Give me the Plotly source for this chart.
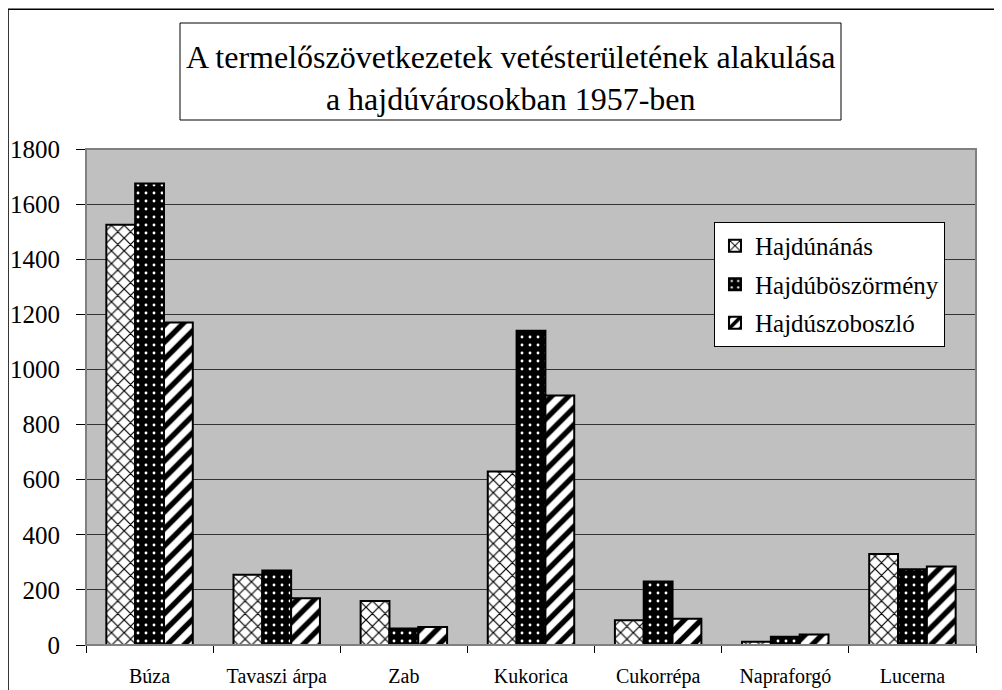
import plotly.graph_objects as go

# adatok (ha), leolvasva az abrarol
kategoriak = ['Búza', 'Tavaszi árpa', 'Zab', 'Kukorica', 'Cukorrépa', 'Napraforgó', 'Lucerna']
hajdunanas = [1525, 255, 160, 630, 90, 12, 330]
hajduboszormeny = [1675, 270, 60, 1140, 230, 30, 275]
hajduszoboszlo = [1170, 170, 65, 905, 95, 38, 285]
y_ticks = [0, 200, 400, 600, 800, 1000, 1200, 1400, 1600, 1800]

FONT = 'Liberation Serif'

fig = go.Figure()

fig.add_trace(go.Bar(
    x=kategoriak, y=hajdunanas, name='Hajdúnánás', legendgroup='a',
    marker=dict(
        color='white',
        line=dict(color='black', width=2),
        pattern=dict(shape='x', bgcolor='white', fgcolor='black',
                     size=9, solidity=0.25, fillmode='replace')
    )
))
fig.add_trace(go.Bar(
    x=kategoriak, y=hajduboszormeny, name='Hajdúböszörmény', legendgroup='b',
    marker=dict(
        color='black',
        line=dict(color='black', width=2),
        pattern=dict(shape='.', bgcolor='black', fgcolor='white',
                     size=8, solidity=0.1, fillmode='replace')
    )
))
fig.add_trace(go.Bar(
    x=kategoriak, y=hajduszoboszlo, name='Hajdúszoboszló', legendgroup='c',
    marker=dict(
        color='white',
        line=dict(color='black', width=2),
        pattern=dict(shape='/', bgcolor='white', fgcolor='black',
                     size=12, solidity=0.45, fillmode='replace')
    )
))

# az oldal 8 px-es margoja miatt minden 8 px-el eltolva
fig.update_layout(
    width=994,
    height=682,
    barmode='group',
    bargap=0.32,
    bargroupgap=0,
    paper_bgcolor='white',
    plot_bgcolor='#c0c0c0',
    margin=dict(l=78, r=26, t=141, b=45, autoexpand=False),
    font=dict(family=FONT, color='black'),
    showlegend=True,
    legend=dict(
        x=0.7056, y=0.853, xanchor='left', yanchor='top',
        bgcolor='white', bordercolor='black', borderwidth=1,
        font=dict(family=FONT, size=25, color='black'),
        itemsizing='constant',
        tracegroupgap=3
    ),
    xaxis=dict(
        automargin=False,
        showline=True, linecolor='black', linewidth=1,
        ticks='outside', ticklen=7, tickcolor='black',
        tickson='boundaries',
        ticklabelstandoff=13,
        tickfont=dict(family=FONT, size=20, color='black'),
        showgrid=False
    ),
    yaxis=dict(
        automargin=False,
        range=[0, 1800],
        tickvals=y_ticks,
        showline=True, linecolor='black', linewidth=1,
        ticks='outside', ticklen=9, tickcolor='black',
        ticklabelstandoff=11,
        tickfont=dict(family=FONT, size=25, color='black'),
        showgrid=True, gridcolor='#333333', gridwidth=1,
        zeroline=False
    ),
    shapes=[
        # kulso keret
        dict(type='rect', xref='paper', yref='paper',
             x0=-0.0876, x1=1.2, y0=-0.3, y1=1.282,
             line=dict(color='black', width=1.5), layer='below'),
        # rajzterulet kerete
        dict(type='rect', xref='paper', yref='paper',
             x0=0, x1=1, y0=0, y1=1,
             line=dict(color='#808080', width=2)),
        # cim doboz
        dict(type='rect', xref='paper', yref='paper',
             x0=(180 - 86) / 890, x1=(841 - 86) / 890,
             y0=(645 - 120) / 496, y1=(645 - 23) / 496,
             line=dict(color='black', width=1), fillcolor='white'),
    ],
    annotations=[dict(
        text='A termelőszövetkezetek vetésterületének alakulása<br>a hajdúvárosokban 1957-ben',
        xref='paper', yref='paper',
        x=(510.5 - 86) / 890, y=(645 - 78) / 496,
        xanchor='center', yanchor='middle',
        showarrow=False,
        font=dict(family=FONT, size=32, color='black')
    )]
)

fig.write_html("out.html")
